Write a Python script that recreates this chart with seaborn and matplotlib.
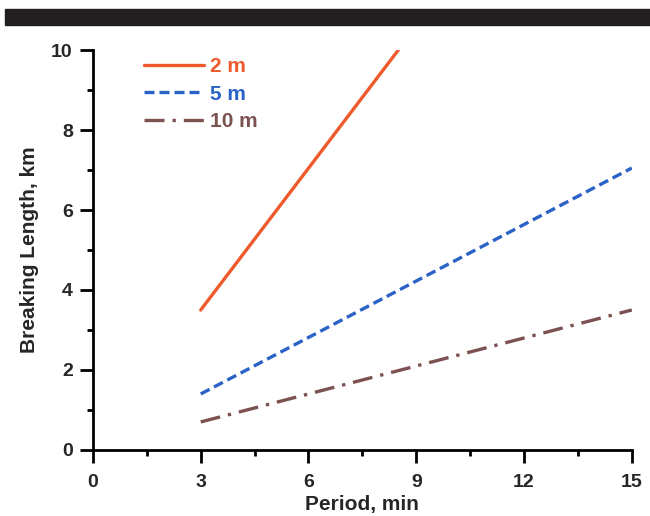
import numpy as np
import pandas as pd
import seaborn as sns
import matplotlib.pyplot as plt
from matplotlib.patches import Rectangle
from matplotlib.ticker import MultipleLocator

# breaking length vs period, for three heights
labels = ['2 m', '5 m', '10 m']
period_2m = [3, 8.5]
length_2m = [3.5, 10]
period_5m = [3, 15]
length_5m = [1.4, 7.05]
period_10m = [3, 15]
length_10m = [0.7, 3.5]

colors = ['#ef5a2c', '#2a62c6', '#7b5250']
dashes = [(None, None), (3, 1.5), (6, 2.4, 1, 2.4)]

df = pd.concat([
    pd.DataFrame({'Period': period_2m, 'Length': length_2m, 'case': labels[0]}),
    pd.DataFrame({'Period': period_5m, 'Length': length_5m, 'case': labels[1]}),
    pd.DataFrame({'Period': period_10m, 'Length': length_10m, 'case': labels[2]}),
])

sns.set_style('white')
plt.rcParams['font.family'] = ['Liberation Sans', 'DejaVu Sans']
plt.rcParams['font.weight'] = 'bold'

fig = plt.figure(figsize=(6.5, 5.16), dpi=100)
ax = fig.add_axes([0.143, 0.128, 0.829, 0.775])

for lab, c, d in zip(labels, colors, dashes):
    sub = df[df['case'] == lab]
    l = sns.lineplot(data=sub, x='Period', y='Length', color=c, lw=2.4, ax=ax, label=lab)
    if d[0] is not None:
        l.lines[-1].set_dashes(d)

ax.set_xlim(0, 15)
ax.set_ylim(0, 10)
ax.xaxis.set_major_locator(MultipleLocator(3))
ax.xaxis.set_minor_locator(MultipleLocator(1.5))
ax.yaxis.set_major_locator(MultipleLocator(2))
ax.yaxis.set_minor_locator(MultipleLocator(1))
ax.tick_params(which='both', direction='out', width=2, labelsize=14, color='black')
ax.tick_params(which='major', length=9.5)
ax.tick_params(which='minor', length=4.5)
ax.tick_params(axis='x', bottom=True, which='both', pad=8)
ax.tick_params(axis='y', left=True, which='both', pad=5)
for s in ['top', 'right']:
    ax.spines[s].set_visible(False)
for s in ['left', 'bottom']:
    ax.spines[s].set_linewidth(2)
    ax.spines[s].set_color('black')
ax.set_xlabel('Period, min', fontsize=15, fontweight='bold', labelpad=3)
ax.set_ylabel('Breaking Length, km', fontsize=15, fontweight='bold', labelpad=9)
for t in ax.get_xticklabels() + ax.get_yticklabels():
    t.set_fontweight('bold')

leg = ax.legend(loc='upper left', bbox_to_anchor=(0.06, 1.03), frameon=False,
                handlelength=2.9, handletextpad=0.25, labelspacing=0.42,
                prop={'size': 15, 'weight': 'bold'})
for txt, c in zip(leg.get_texts(), colors):
    txt.set_color(c)

fig.patches.append(Rectangle((5 / 650, 1 - 25 / 516), 1, 16 / 516,
                             transform=fig.transFigure, color='#231f20', zorder=0))

fig.savefig('out.png', dpi=100)
